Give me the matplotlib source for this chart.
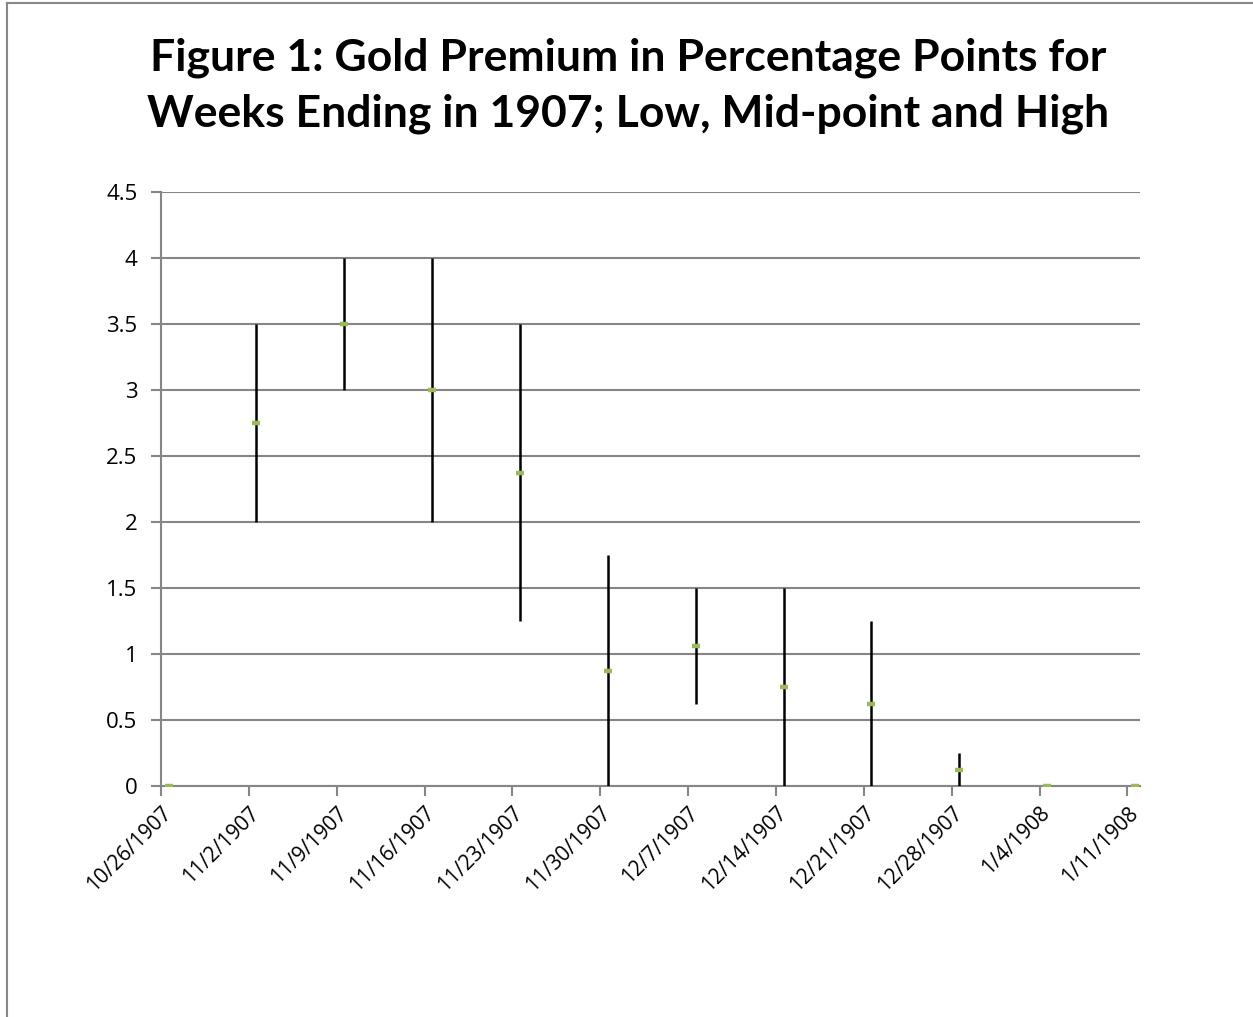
import matplotlib
matplotlib.use("Agg")
import matplotlib.pyplot as plt
import matplotlib.dates as mdates
import matplotlib.transforms as mtransforms
import numpy as np
import datetime as dt

# ---- data ----
dates = ["1907-10-26", "1907-11-02", "1907-11-09", "1907-11-16", "1907-11-23",
         "1907-11-30", "1907-12-07", "1907-12-14", "1907-12-21", "1907-12-28",
         "1908-01-04", "1908-01-11"]
tick_labels = ["10/26/1907", "11/2/1907", "11/9/1907", "11/16/1907", "11/23/1907",
               "11/30/1907", "12/7/1907", "12/14/1907", "12/21/1907", "12/28/1907",
               "1/4/1908", "1/11/1908"]
low = [0, 2, 3, 2, 1.25, 0, 0.625, 0, 0, 0, 0, 0]
high = [0, 3.5, 4, 4, 3.5, 1.75, 1.5, 1.5, 1.25, 0.25, 0, 0]
mid = [0, 2.75, 3.5, 3.0, 2.375, 0.875, 1.0625, 0.75, 0.625, 0.125, 0, 0]
yticks = [0, 0.5, 1, 1.5, 2, 2.5, 3, 3.5, 4, 4.5]
ytick_labels = ["0", "0.5", "1", "1.5", "2", "2.5", "3", "3.5", "4", "4.5"]
title = "Figure 1: Gold Premium in Percentage Points for\nWeeks Ending in 1907; Low, Mid-point and High"

W, H = 1253, 1017
fig = plt.figure(figsize=(W / 100, H / 100), dpi=100)
fig.patch.set_facecolor("white")

# outer chart border (left & top visible)
fig.add_artist(plt.Line2D([7 / W, 7 / W], [0, 1 - 3 / H], color="#888888", lw=1.5))
fig.add_artist(plt.Line2D([7 / W, 1], [1 - 3 / H, 1 - 3 / H], color="#888888", lw=1.5))

left, right, top, bottom = 161, 1140, 192, 786
ax = fig.add_axes([left / W, 1 - bottom / H, (right - left) / W, (bottom - top) / H])

d = [mdates.date2num(dt.datetime.strptime(s, "%Y-%m-%d")) for s in dates]
x = np.array(d) + 0.6

ax.vlines(x, low, high, colors="black", lw=1.8, zorder=3)
ax.plot(x, mid, linestyle="none", marker="_", ms=6, mew=3.2, color="#9BBB59", zorder=4)

ax.set_xlim(d[0], d[-1] + 1)
ax.set_ylim(0, 4.5)
ax.set_yticks(yticks)
ax.set_yticklabels(ytick_labels)
ax.set_xticks(d)
ax.set_xticklabels(tick_labels, rotation=45, ha="right", va="top", rotation_mode="anchor")
offset = mtransforms.ScaledTranslation(13 / 100, 0, fig.dpi_scale_trans)
for lab in ax.get_xticklabels():
    lab.set_transform(lab.get_transform() + offset)

ax.grid(axis="y", color="#868686", lw=1.5)
ax.set_axisbelow(True)
for s in ["top", "right"]:
    ax.spines[s].set_visible(False)
for s in ["left", "bottom"]:
    ax.spines[s].set_color("#868686")
    ax.spines[s].set_linewidth(1.5)
ax.tick_params(axis="both", direction="out", length=7, width=1.5, color="#868686",
               labelcolor="black", pad=5)
ax.tick_params(axis="x", labelsize=15)
ax.tick_params(axis="y", pad=10, labelsize=16)
for lab in ax.get_xticklabels() + ax.get_yticklabels():
    lab.set_fontfamily("Open Sans")

fig.text(628 / W, 1 - 86 / H, title, ha="center", va="center", fontsize=32,
         fontweight="bold", fontfamily="Lato", linespacing=1.47)

fig.savefig("out.png", dpi=100, facecolor="white")
